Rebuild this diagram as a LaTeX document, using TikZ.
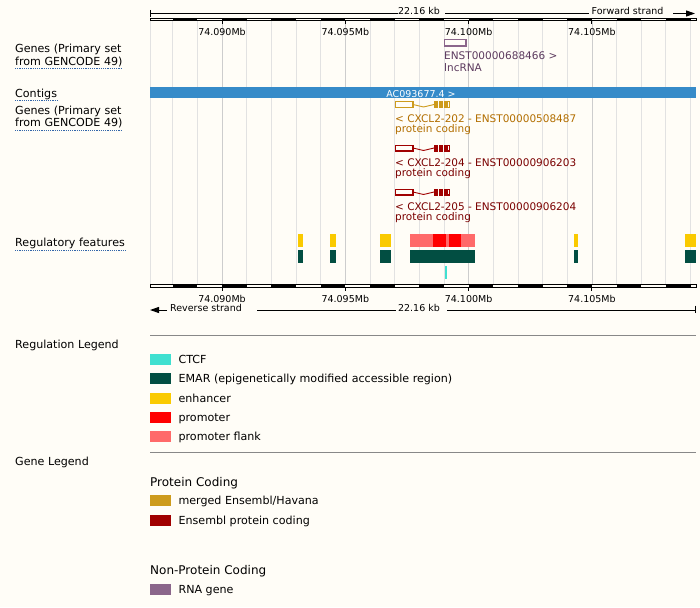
\documentclass[tikz,border=0pt]{standalone}
\usepackage{fontspec}
\setmainfont{DejaVu Sans}
\usetikzlibrary{positioning,arrows.meta}

\definecolor{bgcream}{RGB}{255,253,247}
\definecolor{gridgrey}{RGB}{226,226,226}
\definecolor{gridmajor}{RGB}{205,205,205}
\definecolor{contigblue}{RGB}{54,139,201}
\definecolor{ctcf}{RGB}{64,224,208}
\definecolor{emar}{RGB}{2,78,66}
\definecolor{enhancer}{RGB}{250,202,0}
\definecolor{promoter}{RGB}{255,0,0}
\definecolor{flank}{RGB}{255,106,106}
\definecolor{merged}{RGB}{205,155,29}
\definecolor{mergedtext}{RGB}{178,110,0}
\definecolor{ensprot}{RGB}{160,0,0}
\definecolor{ensprottext}{RGB}{122,0,0}
\definecolor{rnagene}{RGB}{139,102,139}
\definecolor{rnatext}{RGB}{92,58,94}
\definecolor{linkblue}{RGB}{51,102,170}
\definecolor{legline}{RGB}{136,136,136}

\begin{document}
\begin{tikzpicture}[x=1pt,y=-1pt,
    lbl/.style={font=\fontsize{11.1}{13}\selectfont, inner sep=0pt, anchor=west, text height=8pt, text depth=2.5pt, yshift=-1.5pt},
    txlbl/.style={font=\fontsize{10.5}{12}\selectfont, inner sep=0pt, anchor=west, text height=7.8pt, text depth=2.4pt, yshift=-1.5pt},
    mblbl/.style={font=\fontsize{9.5}{11}\selectfont, inner sep=0pt, text height=7pt, text depth=2pt, yshift=-1pt},
    headlbl/.style={font=\fontsize{12}{14}\selectfont, inner sep=0pt, anchor=west, text height=9pt, text depth=2.8pt, yshift=-1.5pt},
    dotline/.style={linkblue, line width=0.8pt, dash pattern=on 1.2pt off 1pt},
    gridln/.style={gridgrey, line width=0.8pt},
    legbox/.style={minimum width=21pt, minimum height=11pt, inner sep=0pt, anchor=north west}]
    \useasboundingbox (0,0) rectangle (700,607);
    \fill[bgcream] (0,0) rectangle (700,607);

    % grid lines, one per kb
    \draw[gridln] (150,21) -- (150,284.3);
    \foreach \k in {-2,...,19}
        \draw[gridln] ({222+24.66*\k},21) -- ({222+24.66*\k},284.3);
    \foreach \k in {0,5,10,15}
        \draw[gridmajor, line width=0.8pt] ({222+24.66*\k},21) -- ({222+24.66*\k},284.3);

    % top ruler
    \draw[line width=1pt] (150,10) -- (150,17);
    \node[mblbl] (topkb) at (419,11) {22.16 kb};
    \node[mblbl, anchor=west] (fwd) at (591.5,11) {Forward strand};
    \draw[line width=1pt] (150,13.5) -- (topkb.west |- 0,13.5);
    \draw[line width=1pt] ([xshift=5pt]topkb.east |- 0,13.5) -- ([xshift=-3pt]fwd.west |- 0,13.5);
    \draw[line width=1pt, -{Triangle[length=9pt,width=6pt]}] (673,13.5) -- (695,13.5);
    \foreach \k in {-2,0,...,18}
        \fill ({222+24.66*\k},18.5) rectangle ({222+24.66*(\k+1)},21);
    \draw[line width=1pt] (150,18.5) rectangle (696,21);
    \foreach \k/\lab in {0/74.090Mb,5/74.095Mb,10/74.100Mb,15/74.105Mb} {
        \draw[line width=1pt] ({222+24.66*\k},21) -- ++(0,3);
        \node[mblbl] (topmb\k) at ({222+24.66*\k},32.5) {\lab};
    }

    % track labels
    \node[lbl] (genesa) at (15,48) {Genes (Primary set};
    \node[lbl] (genesb) at (15,61) {from GENCODE 49)};
    \node[lbl] (contigs) at (15,92.8) {Contigs};
    \node[lbl] (genesc) at (15,110.5) {Genes (Primary set};
    \node[lbl] (genesd) at (15,122.5) {from GENCODE 49)};
    \node[lbl] (regfeat) at (15,242.5) {Regulatory features};
    \foreach \n in {genesb,contigs,genesd,regfeat}
        \draw[dotline] ([yshift=-0.5pt]\n.south west) -- ([yshift=-0.5pt]\n.south east);

    % lncRNA
    \draw[rnagene, line width=1.1pt] (444.5,39.5) rectangle (466,46);
    \node[txlbl, rnatext] (lnca) at (444,55.5) {ENST00000688466 >};
    \node[txlbl, rnatext] (lncb) at (444,67.5) {lncRNA};

    % contig
    \fill[contigblue] (150,87.3) rectangle (696,98.3);
    \node[mblbl, white] (contig) at (421,93.5) {AC093677.4 >};

    % CXCL2 transcripts
    \foreach \y/\col in {101/merged,144.5/ensprot,188.5/ensprot} {
        \draw[\col, line width=1.2pt] (395.5,\y+0.6) rectangle (413,\y+6.4);
        \draw[\col, line width=0.9pt] (413,\y+3.5) -- (423.5,\y+6) -- (434,\y+3.5);
        \fill[\col] (434,\y) rectangle (438,\y+7);
        \fill[\col] (439,\y) rectangle (443,\y+7);
        \fill[\col] (444,\y) rectangle (447.5,\y+7);
        \draw[\col, line width=1.2pt] (447.5,\y+0.6) rectangle (449.5,\y+6.4);
    }
    \node[txlbl, mergedtext] (txa) at (395,118) {< CXCL2-202 - ENST00000508487};
    \node[txlbl, mergedtext] (txab) at (395,128.5) {protein coding};
    \node[txlbl, ensprottext] (txb) at (395,162) {< CXCL2-204 - ENST00000906203};
    \node[txlbl, ensprottext] (txbb) at (395,172.5) {protein coding};
    \node[txlbl, ensprottext] (txc) at (395,206) {< CXCL2-205 - ENST00000906204};
    \node[txlbl, ensprottext] (txcb) at (395,216.5) {protein coding};

    % regulatory features
    \foreach \a/\b in {297.6/302.6,329.9/336,380/391.2,573.6/577.9,685/696} {
        \fill[enhancer] (\a,234) rectangle (\b,246.7);
        \fill[emar] (\a,250) rectangle (\b,262.7);
    }
    \fill[flank] (410.2,234) rectangle (475.4,246.7);
    \fill[promoter] (433.1,234) rectangle (445.6,246.7);
    \fill[promoter] (448.9,234) rectangle (461.1,246.7);
    \fill[emar] (410.2,250) rectangle (475.4,262.7);
    \fill[ctcf] (444.9,266) rectangle (447.4,278.7);

    % bottom ruler
    \foreach \k in {-2,0,...,18}
        \fill ({222+24.66*\k},284.3) rectangle ({222+24.66*(\k+1)},287.7);
    \draw[line width=1pt] (150,284.3) rectangle (696,287.7);
    \foreach \k/\lab in {0/74.090Mb,5/74.095Mb,10/74.100Mb,15/74.105Mb} {
        \draw[line width=1pt] ({222+24.66*\k},287.7) -- ++(0,3);
        \node[mblbl] (botmb\k) at ({222+24.66*\k},299) {\lab};
    }
    \node[mblbl, anchor=west] (rev) at (170,308) {Reverse strand};
    \node[mblbl] (botkb) at (419,308) {22.16 kb};
    \draw[line width=1pt, -{Triangle[length=9pt,width=6pt]}] (167,310) -- (150,310);
    \draw[line width=1pt] ([xshift=15pt]rev.east |- 0,310) -- ([xshift=-2pt]botkb.west |- 0,310);
    \draw[line width=1pt] ([xshift=7pt]botkb.east |- 0,310) -- (695.5,310);
    \draw[line width=1pt] (695.5,305.5) -- (695.5,313);

    % regulation legend
    \draw[legline, line width=1pt] (150,335.5) -- (696,335.5);
    \node[lbl] (reglegend) at (15,344.5) {Regulation Legend};
    \foreach \col/\y/\name in {ctcf/353.5/CTCF,emar/373/{EMAR (epigenetically modified accessible region)},enhancer/392.5/enhancer,promoter/411.5/promoter,flank/431/promoter flank} {
        \node[legbox, fill=\col] (box-\col) at (150,\y) {};
        \node[lbl] (leg-\col) at ([xshift=7pt]box-\col.east) {\name};
    }
    \draw[legline, line width=1pt] (150,452.3) -- (696,452.3);

    % gene legend
    \node[lbl] (genelegend) at (15,461) {Gene Legend};
    \node[headlbl] (protcod) at (150,481.5) {Protein Coding};
    \node[legbox, fill=merged] (box-merged) at (150,494.5) {};
    \node[lbl] (leg-merged) at ([xshift=7pt]box-merged.east) {merged Ensembl/Havana};
    \node[legbox, fill=ensprot] (box-ensprot) at (150,514.5) {};
    \node[lbl] (leg-ensprot) at ([xshift=7pt]box-ensprot.east) {Ensembl protein coding};
    \node[headlbl] (nonprot) at (150,569.5) {Non-Protein Coding};
    \node[legbox, fill=rnagene] (box-rna) at (150,583.5) {};
    \node[lbl] (leg-rna) at ([xshift=7pt]box-rna.east) {RNA gene};
\end{tikzpicture}
\end{document}
